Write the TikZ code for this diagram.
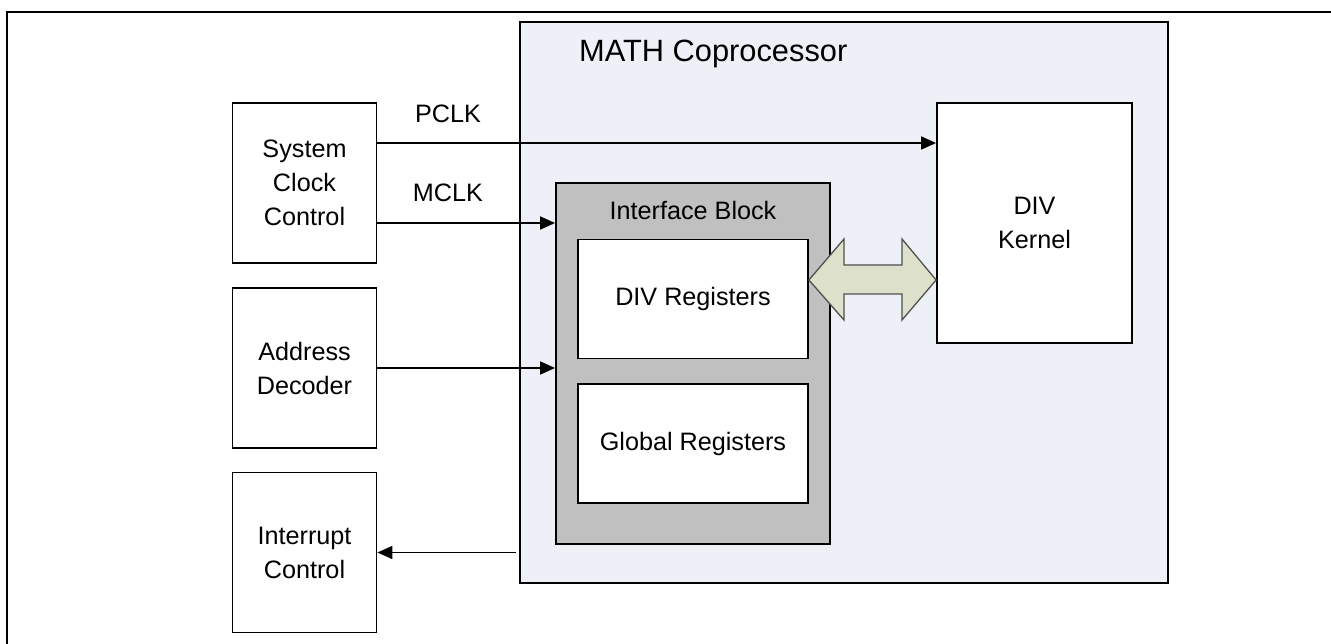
\documentclass[tikz,border=0pt]{standalone}
\usepackage{fontspec}
\setmainfont{Liberation Sans}
\usetikzlibrary{arrows.meta,calc}
\definecolor{mathfill}{HTML}{EDF0F6}
\definecolor{ifgray}{HTML}{C0C0C0}
\definecolor{arrfill}{HTML}{DDE1CB}
\definecolor{arrline}{HTML}{505050}
\tikzset{
  box/.style={draw=black, line width=1.8pt, fill=white, align=center, inner sep=0pt,
    font=\fontsize{25.2}{34}\selectfont},
  lbl/.style={font=\fontsize{25.2}{34}\selectfont, inner sep=0pt},
  conn/.style={line width=1.8pt, -{Triangle[length=15pt,width=13pt]}},
}
\begin{document}
\begin{tikzpicture}[x=1pt,y=-1pt]
\useasboundingbox (0,0) rectangle (1331,644);
% outer frame
\draw[line width=1.5pt] (7,644) -- (7,12) -- (1331,12);
% MATH coprocessor
\node[draw=black, line width=1.8pt, fill=mathfill, minimum width=648pt, minimum height=561pt, inner sep=0pt] (math) at (844,302.5) {};
\node[anchor=base west, inner sep=0pt, font=\fontsize{30.8}{36}\selectfont] (mathtitle) at (579,62) {MATH Coprocessor};
% Interface block
\node[draw=black, line width=1.8pt, fill=ifgray, minimum width=274pt, minimum height=361pt, inner sep=0pt] (ifb) at (693,363.5) {};
\node[lbl, anchor=base] (iftitle) at (693,220) {Interface Block};
\node[box, minimum width=230pt, minimum height=119pt] (divreg) at (693,299) {DIV Registers};
\node[box, minimum width=230pt, minimum height=119pt] (glreg) at (693,443.5) {Global Registers};
% DIV Kernel
\node[box, minimum width=195pt, minimum height=240pt] (kernel) at (1034.5,223) {DIV\\Kernel};
% left blocks
\node[box, minimum width=144pt, minimum height=160pt] (scc) at (304.5,183) {System\\Clock\\Control};
\node[box, minimum width=144pt, minimum height=160pt] (addr) at (304.5,368) {Address\\Decoder};
\node[box, minimum width=144pt, minimum height=160pt] (intc) at (304.5,552.5) {Interrupt\\Control};
% connectors
\draw[conn] (scc.east |- 0,143) -- (kernel.west |- 0,143);
\node[lbl, anchor=base] (pclk) at (448,123) {PCLK};
\draw[conn] (scc.east |- 0,223) -- (ifb.west |- 0,223);
\node[lbl, anchor=base] (mclk) at (448,202) {MCLK};
\draw[conn] (addr.east) -- (ifb.west |- addr.east);
\coordinate (intsrc) at ([xshift=-3pt]math.west |- intc.east);
\draw[conn] (intsrc) -- (intc.east);
% double arrow
\draw[draw=arrline, line width=1.3pt, fill=arrfill, line join=miter]
  (divreg.east |- 0,280) -- (844,239) -- (844,265) -- (902,265) -- (902,239)
  -- (kernel.west |- 0,280) -- (902,320) -- (902,294) -- (844,294) -- (844,320) -- cycle;
\end{tikzpicture}
\end{document}
